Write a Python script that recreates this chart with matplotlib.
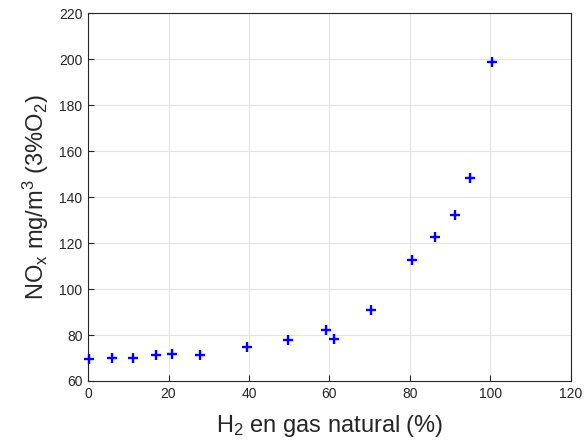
import matplotlib
matplotlib.use("Agg")
import matplotlib.pyplot as plt

plt.rcParams['font.family'] = ['Liberation Sans', 'DejaVu Sans']
plt.rcParams['mathtext.fontset'] = 'custom'
plt.rcParams['mathtext.rm'] = 'Liberation Sans'
plt.rcParams['mathtext.it'] = 'Liberation Sans'

h2 = [0.3, 6.0, 11.1, 16.8, 20.9, 27.9, 39.5, 49.7, 59.1, 61.1, 70.4, 80.4, 86.3, 91.1, 95.0, 100.4]
nox = [69.6, 69.9, 69.9, 71.3, 71.8, 71.3, 74.8, 77.8, 82.1, 78.3, 90.7, 112.7, 122.7, 132.1, 148.4, 198.7]

xticks = [0, 20, 40, 60, 80, 100, 120]
yticks = [60, 80, 100, 120, 140, 160, 180, 200, 220]

fig = plt.figure(figsize=(5.84, 4.44), dpi=100)
ax = fig.add_axes([0.1507, 0.1419, 0.827, 0.8279])

# markers not clipped at the axes edge
ax.plot(h2, nox, '+', color='#0000ff', markersize=7, markeredgewidth=1.7, clip_on=False, zorder=3)

ax.set_xlim(0, 120)
ax.set_ylim(60, 220)
ax.set_xticks(xticks)
ax.set_yticks(yticks)
ax.grid(True, color='#e3e3e3', linewidth=0.8)
ax.set_axisbelow(True)
for s in ax.spines.values():
    s.set_color('#262626')
    s.set_linewidth(0.8)
ax.tick_params(direction='in', length=4, width=0.8, color='#262626',
               labelsize=10, labelcolor='#262626', top=False, right=False, pad=4)

ax.set_xlabel(r'H$_\mathregular{2}$ en gas natural (%)', fontsize=17, color='#262626', labelpad=9)
ax.set_ylabel(r'NO$_\mathregular{x}$ mg/m$^\mathregular{3}$ (3%O$_\mathregular{2}$)', fontsize=17, color='#262626', labelpad=6)

fig.savefig('out.png', dpi=100)
